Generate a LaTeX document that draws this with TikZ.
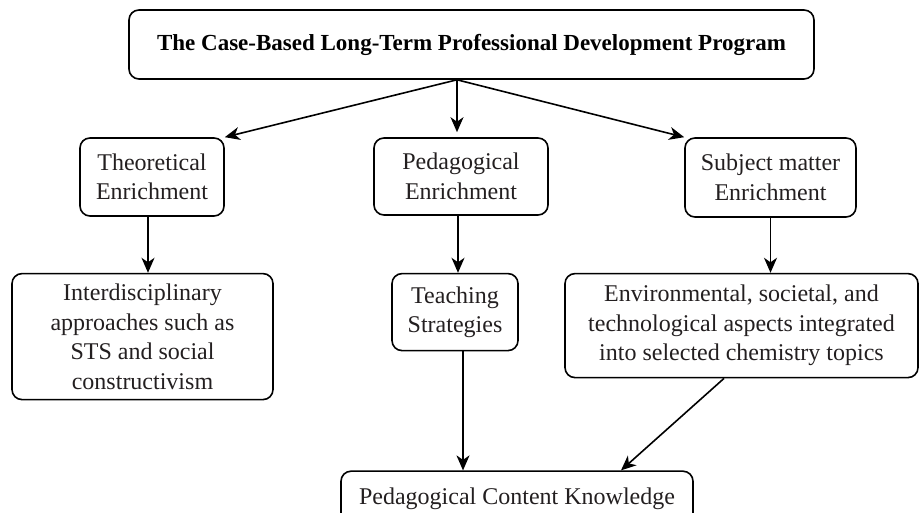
\documentclass[tikz,border=0pt]{standalone}
\usepackage{fontspec}
\setmainfont{Liberation Serif}
\usepackage{tikz}
\usetikzlibrary{positioning,arrows.meta}

\definecolor{inkgray}{RGB}{35,31,32}

\tikzset{
  box/.style={draw, line width=1.6pt, rounded corners=10pt, align=center, inner sep=0pt,
    text=inkgray, font=\fontsize{24}{29.5}\selectfont},
  arr/.style={-{Stealth[length=15pt,width=13pt,inset=4.5pt]}, line width=1.6pt},
}

\begin{document}
\begin{tikzpicture}[x=1pt,y=1pt]
            \useasboundingbox (0,0) rectangle (921,513);
            \clip (0,0) rectangle (921,513);

            \node[box, minimum width=685pt, minimum height=69pt,
                  font=\fontsize{23}{29.5}\selectfont\bfseries, text=black] (prog) at (471.5,468.5)
                  {The Case-Based Long-Term Professional Development Program};
            \coordinate (fork) at ([xshift=-14.5pt]prog.south);

            \node[box, minimum width=144pt, minimum height=78pt] (theo) at (152,336) {Theoretical\\Enrichment};
            \node[box, minimum width=174pt, minimum height=77pt] (peda) at (461,336.5) {Pedagogical\\Enrichment};
            \node[box, minimum width=171pt, minimum height=79pt] (subj) at (770.5,335.5) {Subject matter\\Enrichment};

            \node[box, minimum width=261pt, minimum height=126pt, below=56pt of theo, xshift=-9.5pt] (inter)
                  {Interdisciplinary\\approaches such as\\STS and social\\constructivism};
            \node[box, minimum width=126pt, minimum height=77pt, below=57pt of peda, xshift=-6pt] (strat)
                  {Teaching\\Strategies};
            \node[box, minimum width=353pt, minimum height=104pt, below=55pt of subj, xshift=-29pt] (env)
                  {Environmental, societal, and\\technological aspects integrated\\into selected chemistry topics};
            \node[box, minimum width=352pt, minimum height=56pt, below=119pt of strat, xshift=62pt] (pck)
                  {Pedagogical Content Knowledge};

            \draw[arr] (fork) -- (theo.north east);
            \draw[arr] (fork) -- ([yshift=5pt]fork |- peda.north);
            \draw[arr] (fork) -- (subj.north west);
            \draw[arr] ([xshift=-4pt]theo.south) -- ([xshift=-4pt]theo.south |- inter.north);
            \draw[arr] ([xshift=-3pt]peda.south) -- ([xshift=-3pt]peda.south |- strat.north);
            \draw[arr] (subj.south) -- (subj.south |- env.north);
            \draw[arr] ([xshift=8pt]strat.south) -- ([xshift=8pt]strat.south |- pck.north);
            \draw[arr] ([xshift=-17.5pt]env.south) -- ([xshift=104pt]pck.north);
\end{tikzpicture}
\end{document}
